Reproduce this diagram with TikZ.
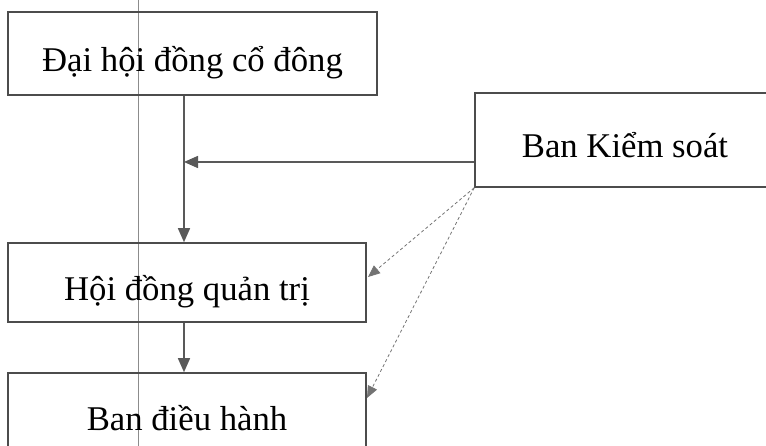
\documentclass[tikz,border=0pt]{standalone}
\usepackage{fontspec}
\setmainfont{Liberation Serif}
\usetikzlibrary{arrows.meta,calc}
\begin{document}
\begin{tikzpicture}[x=1pt,y=-1pt,
  box/.style={draw=black!70,line width=1.6pt,rectangle,inner sep=0pt,
    text height=36pt,text depth=0pt,
    font=\fontsize{34.7}{40}\selectfont,text=black},
  solidarr/.style={draw=black!65,line width=1.5pt,-{Triangle[length=14pt,width=12pt]}},
  dasharr/.style={draw=black!55,line width=0.8pt,dash pattern=on 3pt off 2.5pt,-{Triangle[length=12pt,width=10pt]}}]
\useasboundingbox (0,0) rectangle (766,446);
\begin{scope}
\clip (0,0) rectangle (766,446);
\draw[black!45,line width=0.8pt] (138,0) -- (138,446);
\node[box,minimum width=369pt,minimum height=83pt] (dh) at (192.5,53.5) {Đại hội đồng cổ đông};
\node[box,minimum width=358pt,minimum height=79pt] (hd) at (187,282.5) {Hội đồng quản trị};
\node[box,minimum width=358pt,minimum height=79pt] (bd) at (187,412.5) {Ban điều hành};
\node[box,minimum width=300pt,minimum height=94pt] (bks) at (625,140) {Ban Kiểm soát};
\coordinate (j) at (184,162);
\coordinate (t1) at (368,277);
\coordinate (t2) at (367,398);
\draw[solidarr] (dh.south -| j) -- (hd.north -| j);
\draw[solidarr] (bks.west |- j) -- (j);
\draw[solidarr] (hd.south -| j) -- (bd.north -| j);
\draw[dasharr] (bks.south west) -- (t1);
\draw[dasharr] (bks.south west) -- (t2);
\end{scope}
\end{tikzpicture}
\end{document}
